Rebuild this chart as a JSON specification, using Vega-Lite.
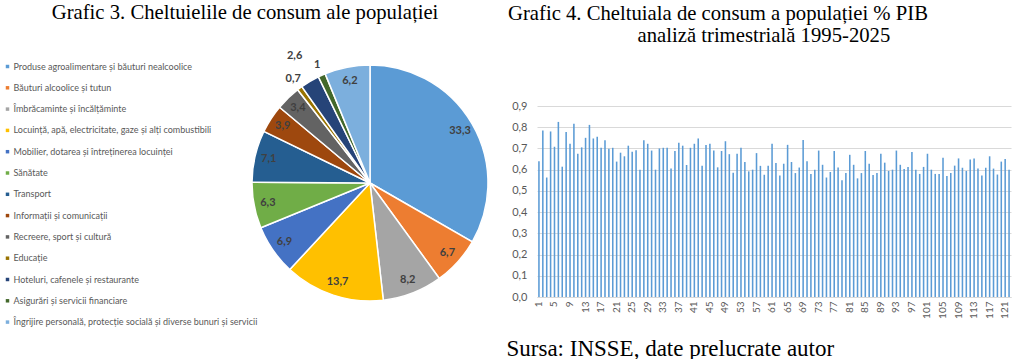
{
  "$schema": "https://vega.github.io/schema/vega-lite/v6.json",
  "autosize": {"type": "none"},
  "padding": {"left": 252, "top": 106, "right": 769, "bottom": 253},
  "background": "white",
  "bounds": "flush",
  "spacing": 49,
  "config": {
    "locale": {"number": {"decimal": ",", "thousands": ".", "grouping": [3], "currency": ["", " lei"]}},
    "view": {"stroke": null},
    "font": "Lato"
  },
  "datasets": {
    "pie": [
      {"k": 1, "c": "Produse agroalimentare și băuturi nealcoolice", "v": 33.3},
      {"k": 2, "c": "Băuturi alcoolice și tutun", "v": 6.7},
      {"k": 3, "c": "Îmbrăcaminte și încălțăminte", "v": 8.2},
      {"k": 4, "c": "Locuință, apă, electricitate, gaze și alți combustibili", "v": 13.7},
      {"k": 5, "c": "Mobilier, dotarea și întreținerea locuinței", "v": 6.9},
      {"k": 6, "c": "Sănătate", "v": 6.3},
      {"k": 7, "c": "Transport", "v": 7.1},
      {"k": 8, "c": "Informații și comunicații", "v": 3.9},
      {"k": 9, "c": "Recreere, sport și cultură", "v": 3.4},
      {"k": 10, "c": "Educație", "v": 0.7},
      {"k": 11, "c": "Hoteluri, cafenele și restaurante", "v": 2.6},
      {"k": 12, "c": "Asigurări și servicii financiare", "v": 1},
      {"k": 13, "c": "Îngrijire personală, protecție socială și diverse bunuri și servicii", "v": 6.2}
    ],
    "bars": [
      {"q": 1, "v": 0.64}, {"q": 2, "v": 0.785}, {"q": 3, "v": 0.563}, {"q": 4, "v": 0.78}, {"q": 5, "v": 0.708},
      {"q": 6, "v": 0.825}, {"q": 7, "v": 0.614}, {"q": 8, "v": 0.777}, {"q": 9, "v": 0.722}, {"q": 10, "v": 0.816},
      {"q": 11, "v": 0.675}, {"q": 12, "v": 0.705}, {"q": 13, "v": 0.75}, {"q": 14, "v": 0.811}, {"q": 15, "v": 0.747},
      {"q": 16, "v": 0.755}, {"q": 17, "v": 0.703}, {"q": 18, "v": 0.739}, {"q": 19, "v": 0.698}, {"q": 20, "v": 0.703},
      {"q": 21, "v": 0.638}, {"q": 22, "v": 0.68}, {"q": 23, "v": 0.663}, {"q": 24, "v": 0.713}, {"q": 25, "v": 0.684},
      {"q": 26, "v": 0.692}, {"q": 27, "v": 0.6}, {"q": 28, "v": 0.739}, {"q": 29, "v": 0.722}, {"q": 30, "v": 0.69},
      {"q": 31, "v": 0.6}, {"q": 32, "v": 0.7}, {"q": 33, "v": 0.703}, {"q": 34, "v": 0.703}, {"q": 35, "v": 0.606},
      {"q": 36, "v": 0.688}, {"q": 37, "v": 0.727}, {"q": 38, "v": 0.713}, {"q": 39, "v": 0.622}, {"q": 40, "v": 0.703},
      {"q": 41, "v": 0.722}, {"q": 42, "v": 0.747}, {"q": 43, "v": 0.619}, {"q": 44, "v": 0.716}, {"q": 45, "v": 0.722},
      {"q": 46, "v": 0.69}, {"q": 47, "v": 0.611}, {"q": 48, "v": 0.688}, {"q": 49, "v": 0.734}, {"q": 50, "v": 0.673},
      {"q": 51, "v": 0.586}, {"q": 52, "v": 0.675}, {"q": 53, "v": 0.703}, {"q": 54, "v": 0.636}, {"q": 55, "v": 0.592},
      {"q": 56, "v": 0.6}, {"q": 57, "v": 0.678}, {"q": 58, "v": 0.618}, {"q": 59, "v": 0.576}, {"q": 60, "v": 0.618},
      {"q": 61, "v": 0.722}, {"q": 62, "v": 0.632}, {"q": 63, "v": 0.572}, {"q": 64, "v": 0.628}, {"q": 65, "v": 0.717},
      {"q": 66, "v": 0.636}, {"q": 67, "v": 0.584}, {"q": 68, "v": 0.61}, {"q": 69, "v": 0.74}, {"q": 70, "v": 0.64},
      {"q": 71, "v": 0.58}, {"q": 72, "v": 0.6}, {"q": 73, "v": 0.69}, {"q": 74, "v": 0.623}, {"q": 75, "v": 0.563},
      {"q": 76, "v": 0.589}, {"q": 77, "v": 0.688}, {"q": 78, "v": 0.61}, {"q": 79, "v": 0.55}, {"q": 80, "v": 0.584},
      {"q": 81, "v": 0.67}, {"q": 82, "v": 0.623}, {"q": 83, "v": 0.559}, {"q": 84, "v": 0.584}, {"q": 85, "v": 0.688},
      {"q": 86, "v": 0.628}, {"q": 87, "v": 0.575}, {"q": 88, "v": 0.584}, {"q": 89, "v": 0.675}, {"q": 90, "v": 0.633},
      {"q": 91, "v": 0.594}, {"q": 92, "v": 0.6}, {"q": 93, "v": 0.69}, {"q": 94, "v": 0.623}, {"q": 95, "v": 0.603},
      {"q": 96, "v": 0.613}, {"q": 97, "v": 0.683}, {"q": 98, "v": 0.6}, {"q": 99, "v": 0.58}, {"q": 100, "v": 0.613},
      {"q": 101, "v": 0.675}, {"q": 102, "v": 0.6}, {"q": 103, "v": 0.58}, {"q": 104, "v": 0.58}, {"q": 105, "v": 0.656},
      {"q": 106, "v": 0.57}, {"q": 107, "v": 0.584}, {"q": 108, "v": 0.619}, {"q": 109, "v": 0.653}, {"q": 110, "v": 0.609},
      {"q": 111, "v": 0.594}, {"q": 112, "v": 0.648}, {"q": 113, "v": 0.653}, {"q": 114, "v": 0.605}, {"q": 115, "v": 0.572},
      {"q": 116, "v": 0.609}, {"q": 117, "v": 0.663}, {"q": 118, "v": 0.605}, {"q": 119, "v": 0.577}, {"q": 120, "v": 0.638},
      {"q": 121, "v": 0.65}, {"q": 122, "v": 0.6}
    ]
  },
  "hconcat": [
    {
      "width": 236,
      "height": 154,
      "data": {"name": "pie"},
      "title": {
        "text": "Grafic 3. Cheltuielile de consum ale populației",
        "font": "Liberation Serif", "fontSize": 20.7, "fontWeight": "normal", "color": "#000000",
        "anchor": "middle", "frame": "group", "dx": -125, "offset": -12, "baseline": "bottom"
      },
      "encoding": {
        "theta": {"field": "v", "type": "quantitative", "stack": true},
        "order": {"field": "k", "type": "quantitative"}
      },
      "layer": [
        {
          "mark": {"type": "arc", "outerRadius": 118, "stroke": "#ffffff", "strokeWidth": 1.5},
          "encoding": {
            "color": {
              "field": "c", "type": "nominal", "sort": null,
              "scale": {
                "domain": [
                  "Produse agroalimentare și băuturi nealcoolice",
                  "Băuturi alcoolice și tutun",
                  "Îmbrăcaminte și încălțăminte",
                  "Locuință, apă, electricitate, gaze și alți combustibili",
                  "Mobilier, dotarea și întreținerea locuinței",
                  "Sănătate",
                  "Transport",
                  "Informații și comunicații",
                  "Recreere, sport și cultură",
                  "Educație",
                  "Hoteluri, cafenele și restaurante",
                  "Asigurări și servicii financiare",
                  "Îngrijire personală, protecție socială și diverse bunuri și servicii"
                ],
                "range": ["#5B9BD5", "#ED7D31", "#A5A5A5", "#FFC000", "#4472C4", "#70AD47", "#255E91", "#9E480E", "#636363", "#997300", "#264478", "#43682B", "#7CAFDD"]
              },
              "legend": {
                "orient": "none", "legendX": -249, "legendY": -44, "title": null,
                "symbolType": "square", "symbolSize": 12, "symbolStrokeWidth": 0,
                "labelFont": "Lato", "labelFontSize": 9, "labelColor": "#595959",
                "labelOffset": 1.5, "rowPadding": 11.3, "padding": 0, "labelLimit": 400
              }
            }
          }
        },
        {
          "mark": {"type": "text", "radius": 104, "font": "Lato", "fontSize": 11, "fontWeight": "bold", "color": "#404040"},
          "encoding": {
            "text": {"field": "v", "type": "quantitative", "format": ".1~f"},
            "opacity": {"condition": {"test": "datum.v >= 3", "value": 1}, "value": 0}
          }
        },
        {
          "mark": {"type": "text", "radius": 129, "font": "Lato", "fontSize": 11, "fontWeight": "bold", "color": "#404040"},
          "encoding": {
            "text": {"field": "v", "type": "quantitative", "format": ".1~f"},
            "opacity": {"condition": {"test": "datum.v < 2", "value": 1}, "value": 0}
          }
        },
        {
          "mark": {"type": "text", "radius": 148, "font": "Lato", "fontSize": 11, "fontWeight": "bold", "color": "#404040"},
          "encoding": {
            "text": {"field": "v", "type": "quantitative", "format": ".1~f"},
            "opacity": {"condition": {"test": "datum.v > 2 && datum.v < 3", "value": 1}, "value": 0}
          }
        }
      ]
    },
    {
      "width": 474,
      "height": 191,
      "data": {"name": "bars"},
      "title": {
        "text": "Grafic 4. Cheltuiala de consum a populației % PIB",
        "font": "Liberation Serif", "fontSize": 20.7, "fontWeight": "normal", "color": "#000000",
        "anchor": "start", "frame": "group", "dx": -29, "offset": -21, "baseline": "bottom"
      },
      "mark": {"type": "bar", "color": "#5B9BD5"},
      "encoding": {
        "x": {
          "field": "q", "type": "ordinal",
          "scale": {"paddingInner": 0.6, "paddingOuter": 0.3},
          "axis": {
            "values": [1, 5, 9, 13, 17, 21, 25, 29, 33, 37, 41, 45, 49, 53, 57, 61, 65, 69, 73, 77, 81, 85, 89, 93, 97, 101, 105, 109, 113, 117, 121],
            "labelAngle": -90, "labelFont": "Lato", "labelFontSize": 10, "labelColor": "#595959", "labelPadding": 4,
            "ticks": false, "domainColor": "#D9D9D9", "grid": false,
            "title": "Sursa: INSSE, date prelucrate autor",
            "titleFont": "Liberation Serif", "titleFontSize": 23, "titleFontWeight": "normal", "titleColor": "#000000",
            "titleAlign": "left", "titleBaseline": "alphabetic", "titleX": -31, "titleY": 58
          }
        },
        "y": {
          "field": "v", "type": "quantitative",
          "scale": {"domain": [0, 0.9], "nice": false},
          "axis": {
            "values": [0, 0.1, 0.2, 0.3, 0.4, 0.5, 0.6, 0.7, 0.8, 0.9],
            "format": ".1f", "labelFont": "Lato", "labelFontSize": 11, "labelColor": "#595959", "labelPadding": 10,
            "ticks": false, "domain": false, "gridColor": "#D9D9D9",
            "title": "analiză trimestrială 1995-2025",
            "titleFont": "Liberation Serif", "titleFontSize": 20.7, "titleFontWeight": "normal", "titleColor": "#000000",
            "titleAngle": 0, "titleAlign": "left", "titleBaseline": "alphabetic", "titleX": 100, "titleY": -65
          }
        }
      }
    }
  ]
}
